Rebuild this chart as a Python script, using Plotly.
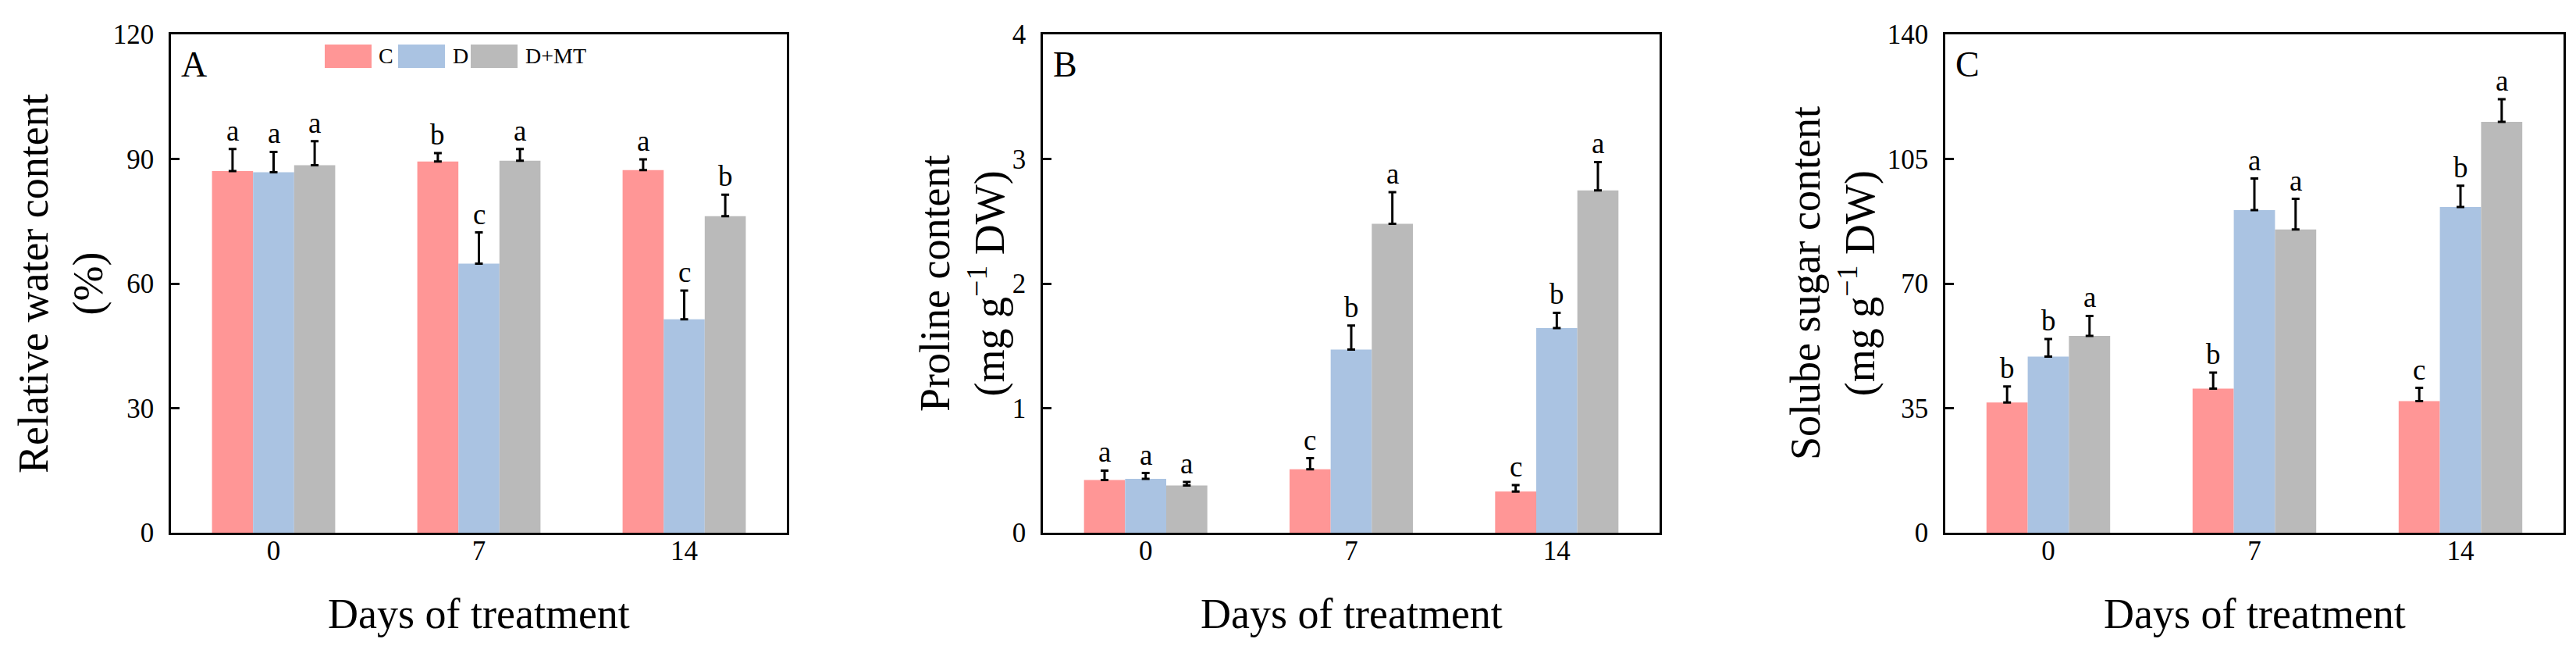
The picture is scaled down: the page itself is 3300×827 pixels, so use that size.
import plotly.graph_objects as go

# ---------------- data ----------------
days = ["0", "7", "14"]
groups = ["C", "D", "D+MT"]
colors = ["#FF9696", "#AAC3E2", "#BABABA"]

rwc_C = [87.1, 89.4, 87.3]
rwc_D = [86.8, 64.8, 51.4]
rwc_G = [88.5, 89.6, 76.2]
rwc_C_err = [5.3, 2.0, 2.6]
rwc_D_err = [4.9, 7.5, 6.9]
rwc_G_err = [5.8, 2.8, 5.2]
rwc_C_sig = ["a", "b", "a"]
rwc_D_sig = ["a", "c", "c"]
rwc_G_sig = ["a", "a", "b"]

pro_C = [0.423, 0.509, 0.331]
pro_D = [0.433, 1.471, 1.643]
pro_G = [0.380, 2.479, 2.747]
pro_C_err = [0.076, 0.089, 0.052]
pro_D_err = [0.046, 0.192, 0.122]
pro_G_err = [0.027, 0.255, 0.228]
pro_C_sig = ["a", "c", "c"]
pro_D_sig = ["a", "b", "b"]
pro_G_sig = ["a", "a", "a"]

sug_C = [36.6, 40.5, 37.0]
sug_D = [49.5, 90.6, 91.5]
sug_G = [55.3, 85.2, 115.4]
sug_C_err = [4.5, 4.5, 3.7]
sug_D_err = [4.9, 8.9, 6.0]
sug_G_err = [5.6, 8.6, 6.4]
sug_C_sig = ["b", "b", "c"]
sug_D_sig = ["b", "a", "b"]
sug_G_sig = ["a", "a", "a"]

panels = [
    dict(letter="A", vals=[rwc_C, rwc_D, rwc_G], errs=[rwc_C_err, rwc_D_err, rwc_G_err],
         sigs=[rwc_C_sig, rwc_D_sig, rwc_G_sig], yrange=[0, 120], dtick=30,
         title="Relative water content<br>(%)"),
    dict(letter="B", vals=[pro_C, pro_D, pro_G], errs=[pro_C_err, pro_D_err, pro_G_err],
         sigs=[pro_C_sig, pro_D_sig, pro_G_sig], yrange=[0, 4], dtick=1,
         title="Proline content<br>(mg g<sup>\u22121</sup> DW)"),
    dict(letter="C", vals=[sug_C, sug_D, sug_G], errs=[sug_C_err, sug_D_err, sug_G_err],
         sigs=[sug_C_sig, sug_D_sig, sug_G_sig], yrange=[0, 140], dtick=35,
         title="Solube sugar content<br>(mg g<sup>\u22121</sup> DW)"),
]

# ---------------- layout geometry ----------------
W, H = 3300, 827
FONT = "Liberation Serif, Times New Roman, serif"
xdomains = [[211 / W, 1000 / W], [1328 / W, 2118 / W], [2484 / W, 3276 / W]]
ydomain = [1 - 674 / H, 1 - 36 / H]
ytitle_x = [70 / W, 1225 / W, 2340 / W]
offsets = [-0.2, 0.0, 0.2]

fig = go.Figure()
annotations = []
shapes = []

for p, panel in enumerate(panels):
    xa = "x" if p == 0 else f"x{p+1}"
    ya = "y" if p == 0 else f"y{p+1}"
    for g in range(3):
        fig.add_trace(go.Bar(
            x=days, y=panel["vals"][g], name=groups[g],
            marker=dict(color=colors[g], line=dict(width=0)),
            error_y=dict(type="data", array=panel["errs"][g], arrayminus=[0, 0, 0],
                         symmetric=False, color="black", thickness=3, width=5),
            xaxis=xa, yaxis=ya, showlegend=False, offsetgroup=str(g),
        ))
        for i in range(3):
            annotations.append(dict(
                x=i + offsets[g], y=panel["vals"][g][i] + panel["errs"][g][i],
                xref=xa, yref=ya, text=panel["sigs"][g][i], showarrow=False,
                xanchor="center", yanchor="bottom", yshift=1,
                font=dict(family=FONT, size=37, color="black")))
    axis_common = dict(showline=True, linecolor="black", linewidth=2.5, mirror=True,
                       showgrid=False, zeroline=False, automargin=False)
    fig.layout[("xaxis" if p == 0 else f"xaxis{p+1}")] = dict(
        domain=xdomains[p], anchor=ya, type="category", range=[-0.5, 2.5],
        ticks="", ticklabelstandoff=-10,
        tickfont=dict(family=FONT, size=35, color="black"), **axis_common)
    fig.layout[("yaxis" if p == 0 else f"yaxis{p+1}")] = dict(
        domain=ydomain, anchor=xa, range=panel["yrange"], dtick=panel["dtick"],
        ticks="inside", ticklen=11, tickwidth=2.5, tickcolor="black",
        ticklabelstandoff=12,
        tickfont=dict(family=FONT, size=35, color="black"), **axis_common)
    # y axis title
    annotations.append(dict(
        x=ytitle_x[p], y=(ydomain[0] + ydomain[1]) / 2, xref="paper", yref="paper",
        text=panel["title"], textangle=-90, showarrow=False,
        xanchor="center", yanchor="middle",
        font=dict(family=FONT, size=54, color="black")))
    # x axis title
    annotations.append(dict(
        x=(xdomains[p][0] + xdomains[p][1]) / 2, y=1 - 778 / H, xref="paper", yref="paper",
        text="Days of treatment", showarrow=False, xanchor="center", yanchor="middle",
        font=dict(family=FONT, size=54, color="black")))
    # panel letter
    annotations.append(dict(
        x=0, y=1, xref=f"{xa} domain", yref=f"{ya} domain", text=panel["letter"],
        showarrow=False, xanchor="left", yanchor="top", xshift=11, yshift=-11,
        font=dict(family=FONT, size=46, color="black")))

# legend (panel A) drawn as patches + labels
leg_x = [408, 502, 595]
leg_tx = [475, 570, 663]
for g in range(3):
    shapes.append(dict(type="rect", xref="paper", yref="paper",
                       x0=leg_x[g] / W, x1=(leg_x[g] + 60) / W,
                       y0=1 - 79 / H, y1=1 - 49 / H,
                       fillcolor=colors[g], line=dict(width=0)))
    annotations.append(dict(x=leg_tx[g] / W, y=1 - 64 / H, xref="paper", yref="paper",
                            text=groups[g], showarrow=False, xanchor="left", yanchor="middle",
                            font=dict(family=FONT, size=28, color="black")))

fig.update_layout(
    width=W, height=H, barmode="group", bargap=0.4, bargroupgap=0,
    plot_bgcolor="white", paper_bgcolor="white",
    margin=dict(l=0, r=0, t=0, b=0, autoexpand=False),
    annotations=annotations, shapes=shapes,
    font=dict(family=FONT, color="black"),
)

fig.write_html("out.html")
